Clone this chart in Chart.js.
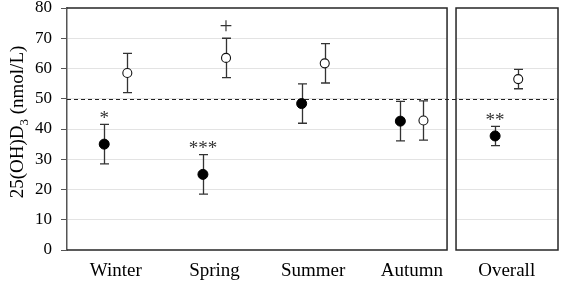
<!DOCTYPE html>
<html>
<head>
<meta charset="utf-8">
<script src="https://cdn.jsdelivr.net/npm/chart.js@4.4.1/dist/chart.umd.min.js"></script>
<style>
  html, body { margin: 0; padding: 0; background: #fff; }
  #wrap { width: 561px; height: 284px; }
</style>
</head>
<body>
<div id="wrap"><canvas id="vitd"></canvas></div>
<script>
// values
const categories = ['Winter', 'Spring', 'Summer', 'Autumn', 'Overall'];
const catPos = [1, 2, 3, 4, 4.96];
const filledMean = [35.0, 25.0, 48.4, 42.6, 37.7];
const filledErr = [6.5, 6.5, 6.5, 6.5, 3.2];
const openMean = [58.5, 63.5, 61.7, 42.8, 56.5];
const openErr = [6.5, 6.5, 6.5, 6.5, 3.2];
const filledMarks = ['*', '***', '', '', '**'];
const openMarks = ['', '+', '', '', ''];
const yTicks = [0, 10, 20, 30, 40, 50, 60, 70, 80];
const refLine = 50;

const serif = "'Liberation Serif', 'Times New Roman', serif";
const offset = 0.117;

const filledPts = catPos.map((x, i) => ({ x: x - offset, y: filledMean[i], e: filledErr[i], m: filledMarks[i] }));
const openPts = catPos.map((x, i) => ({ x: x + offset, y: openMean[i], e: openErr[i], m: openMarks[i] }));

const panels = {
  id: 'panels',
  beforeDatasetsDraw(chart) {
    const { ctx, chartArea: a, scales: { x, y } } = chart;
    const gapL = x.getPixelForValue(4.356), gapR = x.getPixelForValue(4.447);
    ctx.save();
    // white-out grid in the gap between panels
    ctx.fillStyle = '#fff';
    ctx.fillRect(gapL, a.top - 2, gapR - gapL, a.bottom - a.top + 4);
    // reference line
    const yr = Math.round(y.getPixelForValue(refLine)) + 0.5;
    ctx.strokeStyle = '#222';
    ctx.lineWidth = 1.1;
    ctx.setLineDash([4, 3]);
    ctx.beginPath();
    ctx.moveTo(a.left, yr);
    ctx.lineTo(a.right, yr);
    ctx.stroke();
    ctx.setLineDash([]);
    // panel frames
    ctx.strokeStyle = '#262626';
    ctx.lineWidth = 1.5;
    ctx.beginPath();
    ctx.moveTo(a.left, a.top);
    ctx.lineTo(gapL, a.top);
    ctx.lineTo(gapL, a.bottom);
    ctx.lineTo(a.left, a.bottom);
    ctx.stroke();
    ctx.strokeRect(gapR, a.top, a.right - gapR, a.bottom - a.top);
    // error bars
    ctx.strokeStyle = '#333';
    ctx.lineWidth = 1.3;
    [filledPts, openPts].forEach(pts => pts.forEach(p => {
      const px = Math.round(x.getPixelForValue(p.x)) + 0.5;
      const top = y.getPixelForValue(p.y + p.e), bot = y.getPixelForValue(p.y - p.e);
      ctx.beginPath();
      ctx.moveTo(px, top); ctx.lineTo(px, bot);
      ctx.moveTo(px - 4.5, top); ctx.lineTo(px + 4.5, top);
      ctx.moveTo(px - 4.5, bot); ctx.lineTo(px + 4.5, bot);
      ctx.stroke();
    }));
    ctx.restore();
  },
  afterDatasetsDraw(chart) {
    const { ctx, scales: { x, y } } = chart;
    ctx.save();
    ctx.fillStyle = '#333';
    ctx.textAlign = 'center';
    ctx.textBaseline = 'alphabetic';
    [filledPts, openPts].forEach(pts => pts.forEach(p => {
      if (!p.m) return;
      ctx.font = (p.m === '+' ? '23px ' : '19px ') + serif;
      const px = x.getPixelForValue(p.x);
      const cy = y.getPixelForValue(p.y + p.e) - (p.m === '+' ? 12 : 10);
      const m = ctx.measureText(p.m);
      ctx.fillText(p.m, px, cy + (m.actualBoundingBoxAscent - m.actualBoundingBoxDescent) / 2);
    }));
    // y axis title with subscript
    const parts = [['25(OH)D', 19, 0], ['3', 13, 5], [' (nmol/L)', 19, 0]];
    let total = 0;
    parts.forEach(pt => { ctx.font = pt[1] + 'px ' + serif; total += ctx.measureText(pt[0]).width; });
    ctx.translate(17, 122);
    ctx.rotate(-Math.PI / 2);
    ctx.textAlign = 'left';
    ctx.fillStyle = '#000';
    let cx = -total / 2;
    parts.forEach(pt => {
      ctx.font = pt[1] + 'px ' + serif;
      ctx.fillText(pt[0], cx, 6 + pt[2]);
      cx += ctx.measureText(pt[0]).width;
    });
    ctx.restore();
  }
};

new Chart(document.getElementById('vitd'), {
  type: 'scatter',
  data: {
    datasets: [{
      label: 'filled',
      data: filledPts,
      pointRadius: 5,
      pointHoverRadius: 5,
      backgroundColor: '#000',
      borderColor: '#000',
      borderWidth: 1
    }, {
      label: 'open',
      data: openPts,
      pointRadius: 4.5,
      pointHoverRadius: 4.5,
      backgroundColor: '#fff',
      borderColor: '#111',
      borderWidth: 1.1
    }]
  },
  options: {
    responsive: true,
    maintainAspectRatio: false,
    animation: false,
    events: [],
    layout: { autoPadding: false, padding: { top: 0, right: 3, bottom: 0, left: 0 } },
    plugins: { legend: { display: false }, tooltip: { enabled: false } },
    scales: {
      x: {
        type: 'linear',
        min: 0.506,
        max: 5.48,
        afterBuildTicks(axis) { axis.ticks = catPos.map(v => ({ value: v })); },
        afterFit(axis) { axis.height = 34; axis.paddingLeft = 0; axis.paddingRight = 0; },
        ticks: {
          autoSkip: false,
          maxRotation: 0,
          padding: 2,
          color: '#000',
          font: { family: serif, size: 19 },
          callback: (v, i) => categories[i]
        },
        grid: { display: false },
        border: { display: false }
      },
      y: {
        min: 0,
        max: 80,
        afterBuildTicks(axis) { axis.ticks = yTicks.map(v => ({ value: v })); },
        afterFit(axis) { axis.width = 67; axis.paddingTop = 8; axis.paddingBottom = 0; },
        ticks: {
          color: '#000',
          padding: 9,
          font: { family: serif, size: 17 }
        },
        grid: {
          color: ctx => (ctx.tick && ctx.tick.value > 0 && ctx.tick.value < 80 ? '#e3e3e3' : 'rgba(0,0,0,0)'),
          tickColor: '#555',
          tickLength: 6,
          lineWidth: 1
        },
        border: { color: '#555', width: 1.5 }
      }
    }
  },
  plugins: [panels]
});
</script>
</body>
</html>
